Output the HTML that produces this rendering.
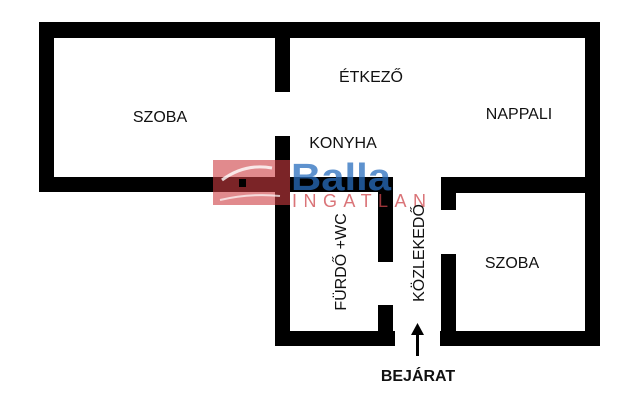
<!DOCTYPE html>
<html><head><meta charset="utf-8"><style>
html,body{margin:0;padding:0;background:#fff;}
svg{display:block}
text{font-family:"Liberation Sans","DejaVu Sans",sans-serif;fill:#111;}
</style></head><body>
<svg width="640" height="400" viewBox="0 0 640 400" xmlns="http://www.w3.org/2000/svg">
<g fill="#000">
  <rect x="39" y="22" width="561" height="16"/>
  <rect x="39" y="22" width="15" height="170"/>
  <rect x="39" y="177" width="251" height="15"/>
  <rect x="585" y="22" width="15" height="324"/>
  <rect x="275" y="22" width="15" height="70"/>
  <rect x="275" y="136" width="15" height="210"/>
  <rect x="275" y="177" width="118" height="15"/>
  <rect x="378" y="177" width="15" height="85"/>
  <rect x="378" y="305" width="15" height="41"/>
  <rect x="275" y="331" width="120" height="15"/>
  <rect x="441" y="177" width="15" height="33"/>
  <rect x="441" y="254" width="15" height="92"/>
  <rect x="441" y="177" width="159" height="16"/>
  <rect x="440" y="331" width="160" height="15"/>
</g>
<rect x="213" y="160" width="77" height="45" fill="rgba(205,60,65,0.6)"/>
<path d="M222 180 Q245 163 272 168" stroke="#fff" stroke-width="3" fill="none" opacity="0.8"/>
<path d="M220 200 Q250 193 280 196" stroke="#fff" stroke-width="2" fill="none" opacity="0.7"/>
<rect x="239" y="179" width="7" height="8" fill="#000"/>
<text x="291" y="190" font-size="38" font-weight="bold" style="fill:rgba(40,110,190,0.75)" textLength="100" lengthAdjust="spacingAndGlyphs">Balla</text>
<text x="292" y="207" font-size="18" style="fill:rgba(205,70,75,0.75)" textLength="134" lengthAdjust="spacing">INGATLAN</text>
<text x="160" y="122" font-size="16" text-anchor="middle">SZOBA</text>
<text x="371" y="82" font-size="16" text-anchor="middle">ÉTKEZŐ</text>
<text x="519" y="119" font-size="16" text-anchor="middle">NAPPALI</text>
<text x="343" y="148" font-size="16" text-anchor="middle">KONYHA</text>
<text x="512" y="268" font-size="16" text-anchor="middle">SZOBA</text>
<text transform="translate(346,262) rotate(-90)" font-size="16" text-anchor="middle">FÜRDŐ +WC</text>
<text transform="translate(424,253) rotate(-90)" font-size="16" text-anchor="middle">KÖZLEKEDŐ</text>
<rect x="416" y="333" width="3" height="23" fill="#000"/>
<polygon points="417.5,323 411,335 424,335" fill="#000"/>
<text x="418" y="381" font-size="16" font-weight="bold" text-anchor="middle">BEJÁRAT</text>
</svg>
</body></html>
